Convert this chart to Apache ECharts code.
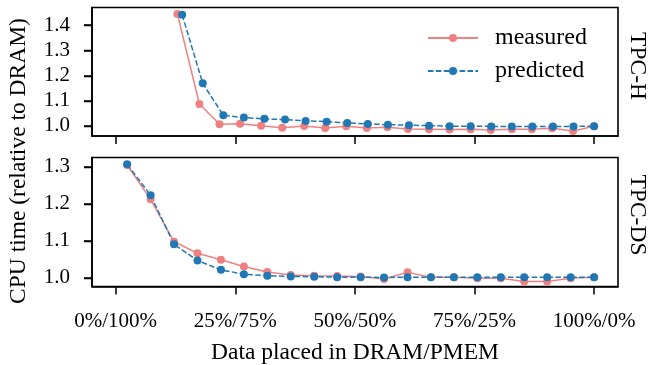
<!DOCTYPE html>
<html>
<head>
<meta charset="utf-8">
<script src="https://cdn.jsdelivr.net/npm/echarts@6/dist/echarts.min.js"></script>
<style>
  html, body { margin: 0; padding: 0; background: #fff; }
  #chart { width: 649px; height: 365px; }
</style>
</head>
<body>
<div id="chart"></div>
<script>
// TPC-H: x positions (% of data in DRAM) and CPU time ratios
const hMeasuredX = [12.9, 17.5, 21.7, 26.0, 30.4, 34.8, 39.4, 43.8, 48.2, 52.5, 56.8, 61.1, 65.5, 69.8, 74.2, 78.4, 82.8, 87.0, 91.2, 95.6, 100];
const hMeasuredY = [1.444, 1.087, 1.007, 1.009, 1.001, 0.993, 1.000, 0.992, 0.999, 0.992, 0.995, 0.988, 0.987, 0.986, 0.987, 0.984, 0.987, 0.987, 0.991, 0.980, 0.999];
const hPredictedX = [13.9, 18.2, 22.5, 26.8, 31.1, 35.4, 39.7, 44.1, 48.4, 52.7, 56.9, 61.3, 65.5, 69.8, 74.2, 78.5, 82.8, 87.1, 91.4, 95.7, 100];
const hPredictedY = [1.441, 1.169, 1.042, 1.033, 1.028, 1.025, 1.020, 1.017, 1.012, 1.008, 1.005, 1.003, 1.001, 0.999, 0.999, 0.998, 0.998, 0.998, 0.998, 0.998, 0.999];

// TPC-DS
const dsX = [2.4, 7.3, 12.2, 17.1, 22.0, 26.8, 31.7, 36.6, 41.5, 46.3, 51.2, 56.1, 61.0, 65.9, 70.7, 75.6, 80.5, 85.4, 90.2, 95.1, 100];
const dsMeasuredY = [1.305, 1.212, 1.097, 1.066, 1.048, 1.030, 1.015, 1.007, 1.005, 1.004, 1.003, 0.996, 1.014, 1.001, 1.001, 0.998, 0.998, 0.989, 0.989, 0.998, 1.001];
const dsPredictedY = [1.307, 1.223, 1.090, 1.046, 1.021, 1.009, 1.005, 1.003, 1.002, 1.001, 1.001, 1.000, 1.001, 1.001, 1.001, 1.001, 1.001, 1.001, 1.001, 1.001, 1.001];

const xTicks = [0, 25, 50, 75, 100];
const hYTicks = [1.0, 1.1, 1.2, 1.3, 1.4];
const dsYTicks = [1.0, 1.1, 1.2, 1.3];

const FONT = 'Liberation Serif';
const RED = '#f08080';
const BLUE = '#1f77b4';

// panel frames and y ranges
const LEFT = 92, RIGHT = 31;
const panels = [
  { top: 7.5, height: 128.5, min: 0.96, max: 1.47, ticks: hYTicks },
  { top: 157.5, height: 129, min: 0.9757, max: 1.3254, ticks: dsYTicks }
];

const pairs = (xs, ys) => xs.map((x, i) => [x, ys[i]]);

function xAxisFor(grid, withLabels) {
  return {
    type: 'value', gridIndex: grid, min: -4.95, max: 105,
    axisLine: { show: true, onZero: false, lineStyle: { color: '#000', width: 1.6 } },
    splitLine: { show: false },
    axisTick: { show: true, length: 8, customValues: xTicks, lineStyle: { color: '#000', width: 1.5 } },
    axisLabel: {
      show: withLabels, customValues: xTicks, margin: 24,
      fontFamily: FONT, fontSize: 21, color: '#000',
      formatter: v => v + '%/' + (100 - v) + '%'
    },
    name: withLabels ? 'Data placed in DRAM/PMEM' : '',
    nameLocation: 'middle', nameGap: 54,
    nameTextStyle: { fontFamily: FONT, fontSize: 23.5, color: '#000' }
  };
}

function yAxisFor(grid) {
  const p = panels[grid];
  return {
    type: 'value', gridIndex: grid, min: p.min, max: p.max,
    axisLine: { show: true, onZero: false, lineStyle: { color: '#000', width: 1.6 } },
    axisTick: { show: true, length: 8, customValues: p.ticks, lineStyle: { color: '#000', width: 1.5 } },
    splitLine: { show: false },
    axisLabel: {
      customValues: p.ticks, margin: 22,
      fontFamily: FONT, fontSize: 21, color: '#000',
      formatter: v => v.toFixed(1)
    }
  };
}

function line(name, x, y, color, dashed, xi, yi) {
  return {
    name: name, type: 'line', xAxisIndex: xi, yAxisIndex: yi,
    data: pairs(x, y),
    symbol: 'circle', symbolSize: 8,
    itemStyle: { color: color },
    lineStyle: { color: color, width: 1.5, type: dashed ? [5.5, 2.4] : 'solid' },
    animation: false
  };
}

function sideText(text, x, y, rot) {
  return {
    type: 'text', x: x, y: y, rotation: rot,
    style: {
      text: text, font: '23.5px "Liberation Serif"',
      fill: '#000', align: 'center', verticalAlign: 'middle'
    }
  };
}

// y tick marks drawn as graphic lines at each panel's tick values
const tickMarks = [];
panels.forEach(p => {
  p.ticks.forEach(v => {
    const y = Math.round(p.top + p.height * (p.max - v) / (p.max - p.min)) + 0.5;
    tickMarks.push({
      type: 'rect', z: 100, silent: true,
      shape: { x: LEFT - 8, y: y - 0.75, width: 8, height: 1.5 },
      style: { fill: '#000' }
    });
  });
});

const chart = echarts.init(document.getElementById('chart'));
chart.setOption({
  animation: false,
  grid: panels.map(p => ({
    left: LEFT, right: RIGHT, top: p.top, height: p.height,
    show: true, borderColor: '#000', borderWidth: 1.6, outerBoundsMode: 'none'
  })),
  xAxis: [xAxisFor(0, false), xAxisFor(1, true)],
  yAxis: [yAxisFor(0), yAxisFor(1)],
  legend: {
    orient: 'vertical', left: 427, top: 26, padding: 0,
    itemWidth: 50, itemHeight: 10, itemGap: 9,
    textStyle: { fontFamily: FONT, fontSize: 24, color: '#000', padding: [0, 0, 0, 12] },
    data: ['measured', 'predicted']
  },
  graphic: [
    sideText('CPU time (relative to DRAM)', 19, 161, Math.PI / 2),
    sideText('TPC-H', 637, 66, -Math.PI / 2),
    sideText('TPC-DS', 637, 215, -Math.PI / 2)
  ].concat(tickMarks),
  series: [
    line('measured', hMeasuredX, hMeasuredY, RED, false, 0, 0),
    line('predicted', hPredictedX, hPredictedY, BLUE, true, 0, 0),
    line('measured', dsX, dsMeasuredY, RED, false, 1, 1),
    line('predicted', dsX, dsPredictedY, BLUE, true, 1, 1)
  ]
});
</script>
</body>
</html>
